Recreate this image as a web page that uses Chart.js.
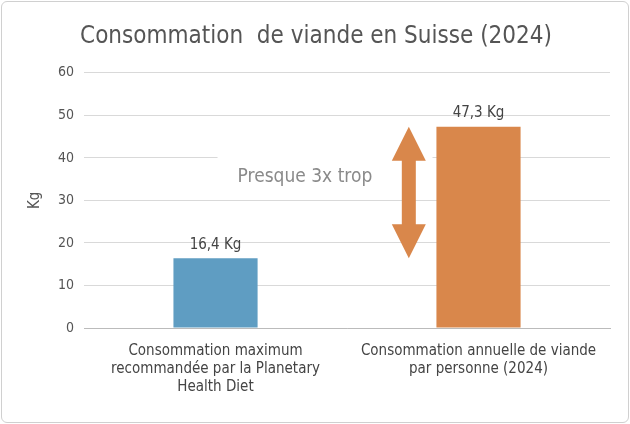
<!DOCTYPE html>
<html>
<head>
<meta charset="utf-8">
<script src="https://cdn.jsdelivr.net/npm/chart.js@4"></script>
<style>
  body { margin: 0; background: #fff; }
  #wrap { position: absolute; left: 1px; top: 1px; width: 626px; height: 420px; border: 1px solid #d0d0d0; border-radius: 6px; }
  canvas { display: block; }
</style>
</head>
<body>
<div id="wrap"><canvas id="c" width="626" height="420"></canvas></div>
<script>
// data
const categories = [
    ['Consommation maximum', 'recommandée par la Planetary', 'Health Diet'],
    ['Consommation annuelle de viande', 'par personne (2024)']
];
const values = [16.4, 47.3];
const barLabels = ['16,4 Kg', '47,3 Kg'];
const barColors = ['#5f9dc2', '#d9874b'];
const arrowRange = [16.4, 47.3];
const noteText = 'Presque 3x trop';

const fontFam = "'DejaVu Sans Condensed', 'Liberation Sans Narrow', 'Roboto', sans-serif";

// draws labels, the gap in the 40 gridline, the note and the double arrow
const extras = {
    id: 'extras',
    beforeDatasetsDraw(chart) {
        const { ctx, scales: { x, y } } = chart;
        ctx.save();
        ctx.fillStyle = '#fff';
        const y40 = y.getPixelForValue(40);
        ctx.fillRect(x.getPixelForValue(0) + 2, y40 - 2, 215, 4);
        ctx.restore();
    },
    afterDatasetsDraw(chart) {
        const { ctx, scales: { x, y } } = chart;
        ctx.save();
        ctx.font = '15px ' + fontFam;
        ctx.fillStyle = '#444';
        ctx.textAlign = 'center';
        ctx.textBaseline = 'bottom';
        values.forEach((v, i) => {
            ctx.fillText(barLabels[i], x.getPixelForValue(i), y.getPixelForValue(v) - 6);
        });
        // note
        ctx.font = '19px ' + fontFam;
        ctx.fillStyle = '#8a8a8a';
        ctx.textBaseline = 'middle';
        ctx.fillText(noteText, x.getPixelForValue(0.34), y.getPixelForValue(35.5));
        // arrow
        const ax = x.getPixelForValue(0.735);
        const top = y.getPixelForValue(arrowRange[1]);
        const bot = y.getPixelForValue(arrowRange[0]);
        const hw = 17, sw = 7, hh = 34;
        ctx.fillStyle = '#d9874b';
        ctx.beginPath();
        ctx.moveTo(ax, top);
        ctx.lineTo(ax + hw, top + hh);
        ctx.lineTo(ax + sw, top + hh);
        ctx.lineTo(ax + sw, bot - hh);
        ctx.lineTo(ax + hw, bot - hh);
        ctx.lineTo(ax, bot);
        ctx.lineTo(ax - hw, bot - hh);
        ctx.lineTo(ax - sw, bot - hh);
        ctx.lineTo(ax - sw, top + hh);
        ctx.lineTo(ax - hw, top + hh);
        ctx.closePath();
        ctx.fill();
        ctx.restore();
    }
};

new Chart(document.getElementById('c').getContext('2d'), {
    type: 'bar',
    data: {
        labels: categories,
        datasets: [{ data: values, backgroundColor: barColors, barPercentage: 0.32, categoryPercentage: 1 }]
    },
    options: {
        responsive: false,
        animation: false,
        layout: { padding: { left: 20, right: 18, top: 6, bottom: 20 } },
        plugins: {
            legend: { display: false },
            tooltip: { enabled: false },
            title: {
                display: true,
                text: 'Consommation  de viande en Suisse (2024)',
                align: 'center',
                color: '#555',
                font: { family: fontFam, size: 24, weight: 'normal' },
                padding: { top: 14, bottom: 22 }
            }
        },
        scales: {
            x: {
                grid: { display: false },
                border: { color: '#bbb' },
                ticks: { color: '#444', font: { family: fontFam, size: 15 }, maxRotation: 0, padding: 6 }
            },
            y: {
                min: 0, max: 60,
                ticks: { stepSize: 10, color: '#555', font: { family: fontFam, size: 14 }, padding: 10 },
                grid: { color: '#d9d9d9', drawTicks: false },
                border: { display: false },
                title: { display: true, text: 'Kg', color: '#555', font: { family: fontFam, size: 15 } }
            }
        }
    },
    plugins: [extras]
});
</script>
</body>
</html>
